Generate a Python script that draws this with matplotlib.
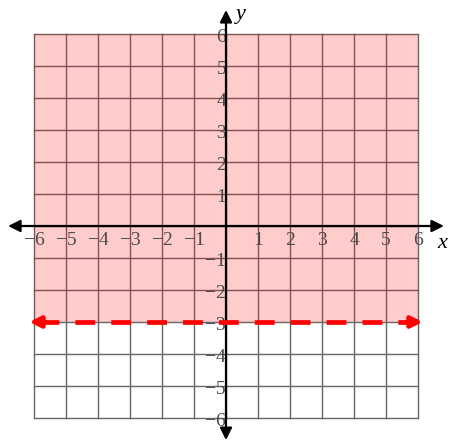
import matplotlib
matplotlib.use("Agg")
import matplotlib.pyplot as plt
import numpy as np

# grid / axis range
x_min, x_max = -6, 6
y_min, y_max = -6, 6
ticks = [-6, -5, -4, -3, -2, -1, 1, 2, 3, 4, 5, 6]

# inequality y > -3 (dashed boundary, shade above)
boundary_y = -3
line_x = [-6.15, 6.15]

fig = plt.figure(figsize=(4.53, 4.43), dpi=100)
ax = fig.add_axes([0, 0, 1, 1])
ax.set_xlim(-6 - 34 / 32, 6 + 35 / 32)
ax.set_ylim(-6 - 25 / 32, 6 + 34 / 32)
ax.axis("off")

# grid
for v in range(x_min, x_max + 1):
    ax.plot([v, v], [y_min, y_max], color="#666666", lw=1, zorder=1)
for v in range(y_min, y_max + 1):
    ax.plot([x_min, x_max], [v, v], color="#666666", lw=1, zorder=1)

# shaded region
ax.fill_between([x_min, x_max], boundary_y, y_max, color="red", alpha=0.2,
                lw=0, zorder=2)

# axes with arrows
ax.annotate("", xy=(6.81, 0), xytext=(-6.81, 0),
            arrowprops=dict(arrowstyle="<|-|>", color="black", lw=1.6,
                            mutation_scale=18, shrinkA=0, shrinkB=0), zorder=4)
ax.annotate("", xy=(0, 6.75), xytext=(0, -6.69),
            arrowprops=dict(arrowstyle="<|-|>", color="black", lw=1.6,
                            mutation_scale=18, shrinkA=0, shrinkB=0), zorder=4)

# boundary line
ax.plot([line_x[0] + 0.3, line_x[1] - 0.3], [boundary_y, boundary_y],
        color="red", lw=3.4, dashes=(4.2, 3.4), zorder=5)
for sx, ex in [(line_x[0] + 0.5, line_x[0]), (line_x[1] - 0.5, line_x[1])]:
    ax.annotate("", xy=(ex, boundary_y), xytext=(sx, boundary_y),
                arrowprops=dict(arrowstyle="-|>", color="red", lw=3.4,
                                mutation_scale=16, shrinkA=0, shrinkB=0),
                zorder=5)

# tick labels
font = dict(family="Liberation Serif", fontsize=14, color="#4a4a4a")
for t in ticks:
    lab = str(t).replace("-", "\u2212")
    ax.text(t, -0.2, lab, ha="center", va="top", zorder=3, **font)
    ax.text(0.0, t - 0.1, lab, ha="right", va="center", zorder=3, **font)

ax.text(6.6, -0.55, "x", family="Liberation Serif", style="italic",
        fontsize=16, ha="left", va="center")
ax.text(0.3, 6.6, "y", family="Liberation Serif", style="italic",
        fontsize=16, ha="left", va="center")

fig.savefig("out.png", dpi=100)
